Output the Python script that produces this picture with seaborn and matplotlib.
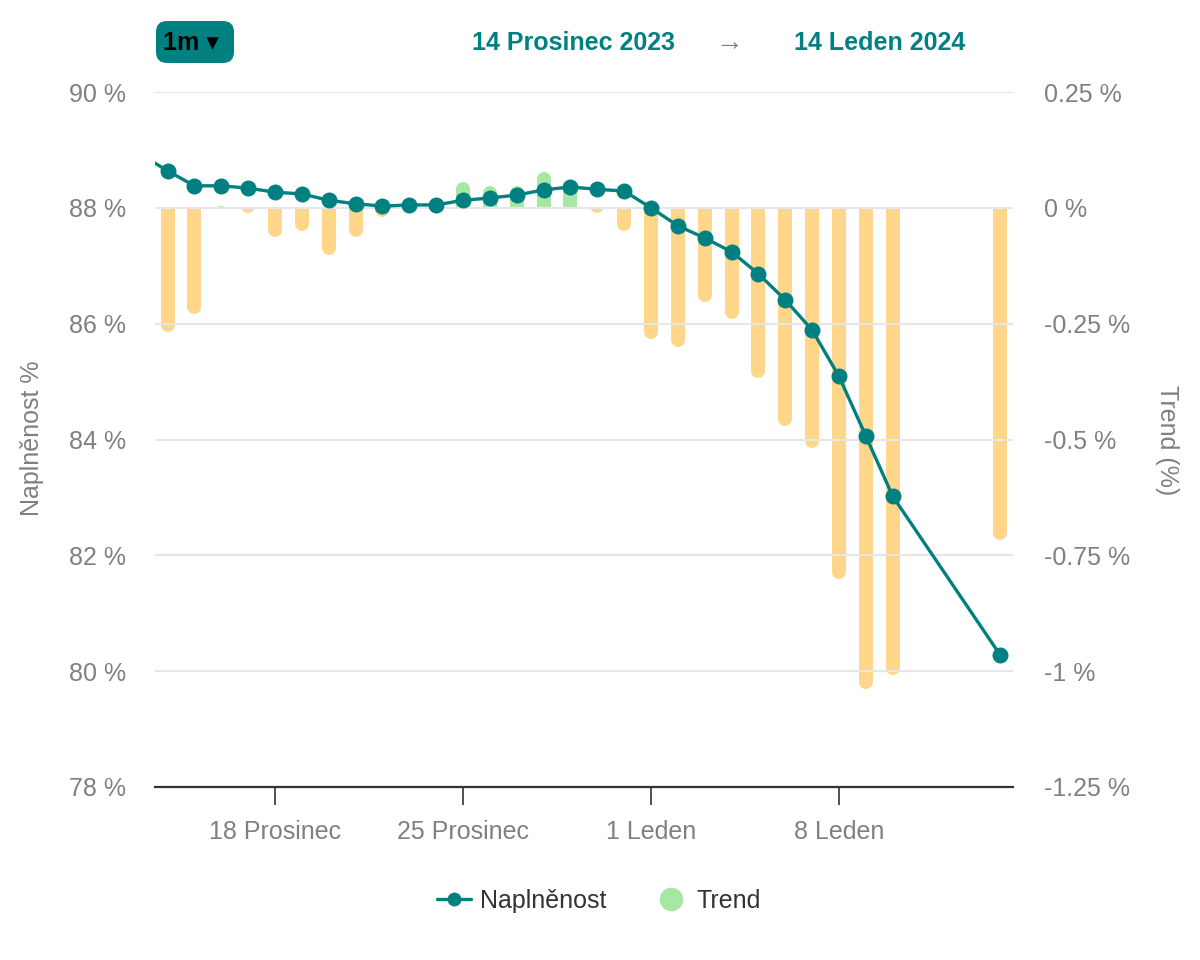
import numpy as np
import pandas as pd
import matplotlib
matplotlib.use("Agg")
import matplotlib.pyplot as plt
import matplotlib.dates as mdates
from matplotlib.patches import Rectangle, FancyBboxPatch
from matplotlib.lines import Line2D
import seaborn as sns

# ---------------- data ----------------
line_dates = ["2023-12-13", "2023-12-14", "2023-12-15", "2023-12-16", "2023-12-17",
              "2023-12-18", "2023-12-19", "2023-12-20", "2023-12-21", "2023-12-22",
              "2023-12-23", "2023-12-24", "2023-12-25", "2023-12-26", "2023-12-27",
              "2023-12-28", "2023-12-29", "2023-12-30", "2023-12-31", "2024-01-01",
              "2024-01-02", "2024-01-03", "2024-01-04", "2024-01-05", "2024-01-06",
              "2024-01-07", "2024-01-08", "2024-01-09", "2024-01-10", "2024-01-14"]
naplnenost = [88.92, 88.64, 88.38, 88.38, 88.34,
              88.27, 88.24, 88.13, 88.07, 88.03,
              88.05, 88.05, 88.13, 88.17, 88.22,
              88.31, 88.36, 88.32, 88.29, 88.00,
              87.69, 87.48, 87.24, 86.86, 86.41,
              85.89, 85.09, 84.06, 83.02, 80.28]

trend_dates = ["2023-12-14", "2023-12-15", "2023-12-16", "2023-12-17", "2023-12-18",
               "2023-12-19", "2023-12-20", "2023-12-21", "2023-12-22", "2023-12-24",
               "2023-12-25", "2023-12-26", "2023-12-27", "2023-12-28", "2023-12-29",
               "2023-12-30", "2023-12-31", "2024-01-01", "2024-01-02", "2024-01-03",
               "2024-01-04", "2024-01-05", "2024-01-06", "2024-01-07", "2024-01-08",
               "2024-01-09", "2024-01-10", "2024-01-14"]
trend = [-0.268, -0.229, 0.004, -0.011, -0.063,
         -0.050, -0.101, -0.063, -0.019, 0.003,
         0.055, 0.047, 0.047, 0.078, 0.055,
         -0.011, -0.050, -0.283, -0.300, -0.203,
         -0.240, -0.367, -0.471, -0.518, -0.801,
         -1.038, -1.008, -0.717]

left_ticks = [78, 80, 82, 84, 86, 88, 90]
right_ticks = [-1.25, -1.0, -0.75, -0.5, -0.25, 0.0, 0.25]
right_tick_labels = ["-1.25 %", "-1 %", "-0.75 %", "-0.5 %", "-0.25 %", "0 %", "0.25 %"]
x_tick_dates = ["2023-12-18", "2023-12-25", "2024-01-01", "2024-01-08"]
x_tick_labels = ["18 Prosinec", "25 Prosinec", "1 Leden", "8 Leden"]

# ---------------- style ----------------
TEAL = "#008080"
ORANGE = "#FFD68A"
GREEN = "#A8E6A3"
GRID = "#E6E6E6"
TICKC = "#808080"

sns.set_theme(style="white")
plt.rcParams["font.family"] = ["Liberation Sans", "DejaVu Sans"]

W, H = 1200, 960
fig = plt.figure(figsize=(W / 100, H / 100), dpi=100)
L, R, T, B = 155, 1013, 92, 787
ax = fig.add_axes([L / W, 1 - B / H, (R - L) / W, (B - T) / H])
ax2 = ax.twinx()
ax.set_zorder(2)
ax.patch.set_visible(False)

ld = pd.to_datetime(line_dates)
td = pd.to_datetime(trend_dates)
df_line = pd.DataFrame({"date": ld, "val": naplnenost})

# x range
d18 = mdates.date2num(pd.Timestamp("2023-12-18"))
d8 = mdates.date2num(pd.Timestamp("2024-01-08"))
ppd = (839 - 275) / 21.0
xmin = d18 - (275 - L) / ppd
xmax = d8 + (R - 839) / ppd

# ---------------- bars (right axis) ----------------
ax2.set_ylim(-1.25, 0.25)
bar_px = 14
r = (bar_px / 2) / (B - T) * 1.5
lw_pt = bar_px * 72 / 100
tx = mdates.date2num(td)
tv = np.array(trend)
neg = tv < 0
pos = ~neg
lc_neg = ax2.vlines(tx[neg], 0.05, tv[neg] + r, colors=ORANGE, linewidth=lw_pt,
                    capstyle="round", zorder=1)
lc_neg.set_clip_path(Rectangle((xmin - 5, -3), xmax - xmin + 10, 3, transform=ax2.transData))
lc_pos = ax2.vlines(tx[pos], -0.05, tv[pos] - r, colors=GREEN, linewidth=lw_pt,
                    capstyle="round", zorder=1)
lc_pos.set_clip_path(Rectangle((xmin - 5, 0), xmax - xmin + 10, 3, transform=ax2.transData))

# ---------------- line (left axis) ----------------
sns.lineplot(data=df_line, x="date", y="val", ax=ax, color=TEAL, linewidth=2.4,
             marker="o", markersize=11.5, markeredgewidth=0, zorder=5, legend=False)
ax.set_ylim(78, 90)
ax.set_xlim(xmin, xmax)

# grid & spines
ax.set_yticks(left_ticks)
ax.set_yticklabels([f"{v} %" for v in left_ticks])
ax.grid(axis="y", color=GRID, linewidth=1.5, zorder=0)
ax.grid(axis="x", visible=False)
ax2.grid(False)
for a in (ax, ax2):
    for s in ("top", "left", "right"):
        a.spines[s].set_visible(False)
ax2.spines["bottom"].set_visible(False)
ax.spines["bottom"].set_color("#333333")
ax.spines["bottom"].set_linewidth(1.6)
ax.spines["bottom"].set_zorder(6)

ax.tick_params(axis="y", length=0, pad=21, labelsize=18, labelcolor=TICKC)
ax2.set_yticks(right_ticks)
ax2.set_yticklabels(right_tick_labels)
ax2.tick_params(axis="y", length=0, pad=22, labelsize=18, labelcolor=TICKC)

ax.set_xticks(mdates.date2num(pd.to_datetime(x_tick_dates)))
ax.set_xticklabels(x_tick_labels)
ax.tick_params(axis="x", length=13, width=1.2, color="#333333", direction="out",
               pad=11, labelsize=18, labelcolor=TICKC, bottom=True)
ax.set_xlabel("")
ax.set_ylabel("")
ax2.set_ylabel("")

# axis titles
fig.text(32 / W, 1 - 438 / H, "Naplněnost %", rotation=90, ha="center", va="center",
         fontsize=18, color=TICKC)
fig.text(1167 / W, 1 - 440 / H, "Trend (%)", rotation=270, ha="center", va="center",
         fontsize=18, color=TICKC)

# header
fig.text(573 / W, 1 - 43 / H, "14 Prosinec 2023", ha="center", va="center",
         fontsize=18, fontweight="bold", color=TEAL)
fig.text(729 / W, 1 - 43 / H, "→", ha="center", va="center", fontsize=20, color=TICKC)
fig.text(880 / W, 1 - 43 / H, "14 Leden 2024", ha="center", va="center",
         fontsize=18, fontweight="bold", color=TEAL)
btn = FancyBboxPatch((156 / 100, (H - 63) / 100), 78 / 100, 42 / 100,
                     boxstyle="round,pad=0,rounding_size=0.11",
                     transform=fig.dpi_scale_trans, facecolor=TEAL, edgecolor="none")
fig.patches.append(btn)
fig.text(191 / W, 1 - 43 / H, "1m ▾", ha="center", va="center", fontsize=18,
         fontweight="bold", color="black", family=["Liberation Sans", "DejaVu Sans"])

# legend
handles = [Line2D([0], [0], color=TEAL, lw=2.4, marker="o", markersize=10,
                  markeredgewidth=0),
           Line2D([0], [0], color="none", marker="o", markersize=17,
                  markerfacecolor=GREEN, markeredgewidth=0)]
fig.legend(handles, ["Naplněnost", "Trend"], loc="center",
           bbox_to_anchor=(599 / W, 1 - 901 / H), ncol=2, frameon=False,
           fontsize=18, labelcolor="#333333", handlelength=1.35,
           handletextpad=0.35, columnspacing=1.9)

fig.savefig("out.png", dpi=100)
